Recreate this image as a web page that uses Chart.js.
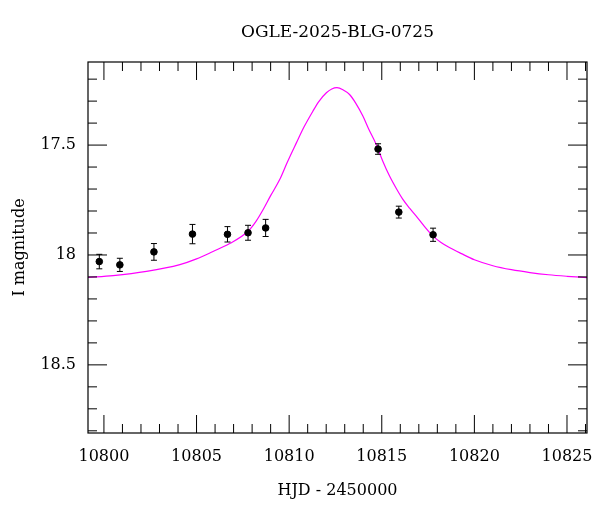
<!DOCTYPE html>
<html><head><meta charset="utf-8">
<script src="https://cdn.jsdelivr.net/npm/chart.js@4"></script>
<style>html,body{margin:0;padding:0;background:#fff}#w{width:600px;height:512px}</style>
</head><body><div id="w"><canvas id="c"></canvas></div>
<script>
const obsT = [10799.75,10800.86,10802.7,10804.78,10806.67,10807.78,10808.73,10814.8,10815.92,10817.77];
const obsMag = [18.03,18.045,17.986,17.905,17.906,17.899,17.877,17.518,17.805,17.908];
const obsErr = [0.033,0.030,0.038,0.044,0.035,0.034,0.039,0.024,0.027,0.030];
const modelT = [10799.14,10800.5,10802.3,10804.1,10805.0,10805.89,10806.79,10807.78,10808.2,10808.59,10809.0,10809.49,10809.9,10810.39,10810.8,10811.28,10811.6,10812.01,10812.3,10812.58,10812.9,10813.26,10813.6,10813.98,10814.3,10814.70,10815.05,10815.42,10815.8,10816.13,10816.5,10816.85,10817.3,10817.75,10818.2,10818.65,10819.3,10820,10821,10822,10823,10824,10825,10826.08];
const modelMag = [18.102,18.094,18.075,18.044,18.018,17.984,17.948,17.892,17.848,17.794,17.730,17.657,17.578,17.490,17.418,17.346,17.302,17.262,17.245,17.239,17.248,17.270,17.310,17.368,17.428,17.497,17.572,17.641,17.700,17.746,17.787,17.822,17.870,17.913,17.943,17.966,17.994,18.022,18.049,18.067,18.080,18.090,18.097,18.103];
const xTicks = [10800,10805,10810,10815,10820,10825];
const yTicks = [17.5,18,18.5];
const FONT = "'DejaVu Serif', 'Liberation Serif', serif";

const deco = {
  id:'deco',
  afterDatasetsDraw(ch){
    const c=ch.ctx, a=ch.chartArea, xs=ch.scales.x, ys=ch.scales.y;
    c.save();
    c.strokeStyle='#000'; c.lineWidth=1;
    obsT.forEach((t,i)=>{
      const px=xs.getPixelForValue(t), y1=ys.getPixelForValue(obsMag[i]-obsErr[i]), y2=ys.getPixelForValue(obsMag[i]+obsErr[i]);
      c.beginPath(); c.moveTo(px,y1); c.lineTo(px,y2);
      c.moveTo(px-3,y1); c.lineTo(px+3,y1); c.moveTo(px-3,y2); c.lineTo(px+3,y2); c.stroke();
    });
    c.strokeStyle='#000'; c.lineWidth=1.2;
    c.strokeRect(a.left,a.top,a.right-a.left,a.bottom-a.top);
    c.lineWidth=1;
    c.beginPath();
    for(let v=10800; v<=10826; v++){
      const px=xs.getPixelForValue(v); const L=(v%5===0)?18:9;
      c.moveTo(px,a.bottom); c.lineTo(px,a.bottom-L);
      c.moveTo(px,a.top); c.lineTo(px,a.top+L);
    }
    for(let k=172; k<=188; k++){
      const v=k/10; const py=ys.getPixelForValue(v); const L=(k%5===0)?19:9;
      c.moveTo(a.left,py); c.lineTo(a.left+L,py);
      c.moveTo(a.right,py); c.lineTo(a.right-L,py);
    }
    c.stroke();
    c.fillStyle='#000'; c.font="17px "+FONT; c.textAlign='center'; c.textBaseline='middle';
    c.fillText('OGLE-2025-BLG-0725', (a.left+a.right)/2, 33);
    c.restore();
  }
};

new Chart(document.getElementById('c'),{
  type:'scatter',
  data:{datasets:[
    {data:obsT.map((t,i)=>({x:t,y:obsMag[i]})),backgroundColor:'#000',borderColor:'#000',pointRadius:3.3,order:0},
    {type:'line',data:modelT.map((t,i)=>({x:t,y:modelMag[i]})),borderColor:'#ff00ff',borderWidth:1.2,pointRadius:0,fill:false,cubicInterpolationMode:'monotone',order:1}
  ]},
  options:{
    responsive:true,maintainAspectRatio:false,animation:false,
    layout:{padding:{top:62,right:13,left:0,bottom:0}},
    plugins:{legend:{display:false},tooltip:{enabled:false}},
    scales:{
      x:{type:'linear',min:10799.14,max:10826.08,
        afterBuildTicks:s=>{s.ticks=xTicks.map(v=>({value:v}));},
        afterFit:s=>{s.height=79;},
        grid:{display:false},border:{display:false},
        ticks:{color:'#000',font:{family:FONT,size:16},padding:6,maxRotation:0,callback:v=>String(v)},
        title:{display:true,text:'HJD - 2450000',color:'#000',font:{family:FONT,size:16},padding:{top:0,bottom:12}}},
      y:{type:'linear',reverse:true,min:17.122,max:18.81,
        afterBuildTicks:s=>{s.ticks=yTicks.map(v=>({value:v}));},
        afterFit:s=>{s.width=88;},
        grid:{display:false},border:{display:false},
        ticks:{color:'#000',font:{family:FONT,size:16},padding:4,callback:v=>String(v)},
        title:{display:true,text:'I magnitude',color:'#000',font:{family:FONT,size:16},padding:{top:10,bottom:0}}}
    }
  },
  plugins:[deco]
});
</script></body></html>
